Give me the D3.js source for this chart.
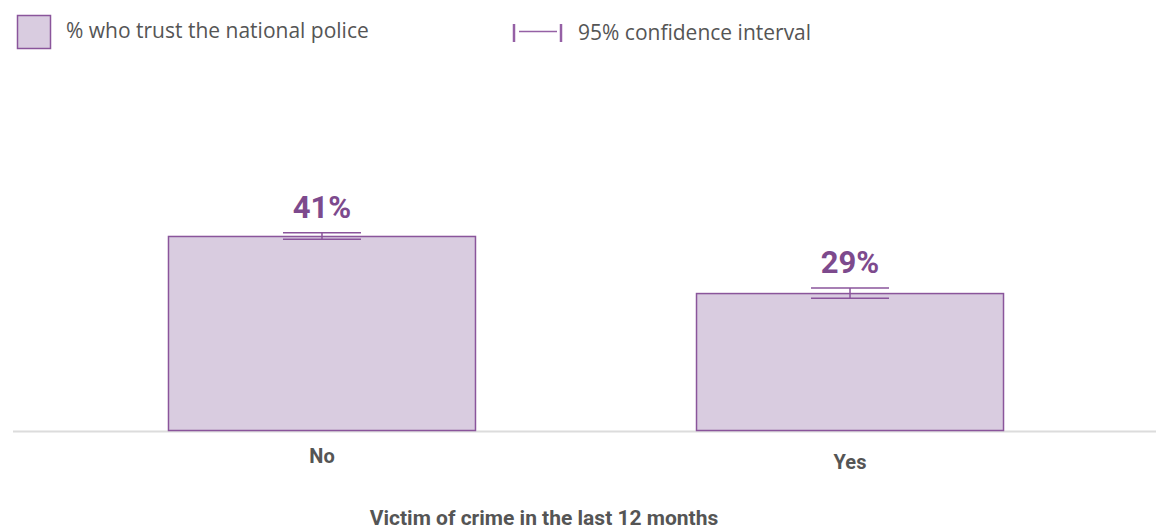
<!DOCTYPE html>
<html>
<head>
<meta charset="utf-8">
<script src="https://cdn.jsdelivr.net/npm/d3@7"></script>
<style>
  body { margin: 0; background: #fff; }
  svg { display: block; }
</style>
</head>
<body>
<script>
// Chart data
var categories = ["No", "Yes"];
var values = [41, 29];
var ciLow = [40.3, 27.9];
var ciHigh = [41.7, 30.05];
var legendLabels = ["% who trust the national police", "95% confidence interval"];
var axisTitle = "Victim of crime in the last 12 months";

var width = 1156, height = 531;
var purple = "#8a559b", fillPurple = "#d9cce0", labelPurple = "#7d4a8d", grey = "#555";

var svg = d3.select("body").append("svg")
  .attr("width", width)
  .attr("height", height);

// Scales
var xRange = d3.scaleBand()
  .domain(categories)
  .range([58, 1114])
  .paddingInner(0.4167)
  .paddingOuter(0.2083);
var yRange = d3.scaleLinear().domain([0, 60]).range([431, 145.6]);

// Baseline
svg.append("line")
  .attr("x1", 13).attr("x2", width)
  .attr("y1", yRange(0) + 0.5).attr("y2", yRange(0) + 0.5)
  .attr("stroke", "#dcdcdc").attr("stroke-width", 2);

// Bars
var data = categories.map(function (c, i) {
  return { cat: c, value: values[i], lo: ciLow[i], hi: ciHigh[i] };
});

svg.selectAll("rect.bar")
  .data(data)
  .enter().append("rect")
  .attr("class", "bar")
  .attr("x", function (d) { return xRange(d.cat) + 0.5; })
  .attr("y", function (d) { return yRange(d.value) + 0.5; })
  .attr("width", xRange.bandwidth() - 1)
  .attr("height", function (d) { return yRange(0) - yRange(d.value) - 1; })
  .attr("fill", fillPurple)
  .attr("stroke", purple)
  .attr("stroke-width", 1.5);

// Confidence intervals
var capW = 78;
var ci = svg.selectAll("g.ci")
  .data(data)
  .enter().append("g")
  .attr("class", "ci")
  .attr("stroke", purple)
  .attr("stroke-width", 1.5);

ci.append("line")
  .attr("x1", function (d) { return xRange(d.cat) + xRange.bandwidth() / 2; })
  .attr("x2", function (d) { return xRange(d.cat) + xRange.bandwidth() / 2; })
  .attr("y1", function (d) { return yRange(d.hi); })
  .attr("y2", function (d) { return yRange(d.lo); });
["hi", "lo"].forEach(function (k) {
  ci.append("line")
    .attr("x1", function (d) { return xRange(d.cat) + xRange.bandwidth() / 2 - capW / 2; })
    .attr("x2", function (d) { return xRange(d.cat) + xRange.bandwidth() / 2 + capW / 2; })
    .attr("y1", function (d) { return yRange(d[k]); })
    .attr("y2", function (d) { return yRange(d[k]); });
});

// Value labels
svg.selectAll("text.val")
  .data(data)
  .enter().append("text")
  .attr("class", "val")
  .attr("x", function (d) { return xRange(d.cat) + xRange.bandwidth() / 2; })
  .attr("y", function (d) { return yRange(d.hi) - 15; })
  .attr("text-anchor", "middle")
  .attr("font-family", "Roboto")
  .attr("font-weight", "bold")
  .attr("font-size", 31)
  .attr("fill", labelPurple)
  .text(function (d) { return d.value + "%"; });

// Category labels
svg.selectAll("text.cat")
  .data(categories)
  .enter().append("text")
  .attr("class", "cat")
  .attr("x", function (d) { return xRange(d) + xRange.bandwidth() / 2; })
  .attr("y", function (d, i) { return 463 + (i ? 6 : 0); })
  .attr("text-anchor", "middle")
  .attr("font-family", "Roboto")
  .attr("font-weight", "bold")
  .attr("font-size", 20)
  .attr("fill", grey)
  .text(function (d) { return d; });

// Axis title
svg.append("text")
  .attr("x", 544)
  .attr("y", 525)
  .attr("text-anchor", "middle")
  .attr("font-family", "Roboto")
  .attr("font-weight", "bold")
  .attr("font-size", 21)
  .attr("fill", grey)
  .text(axisTitle);

// Legend
var legend = svg.append("g").attr("font-family", "Open Sans").attr("font-size", 21).attr("fill", grey);
legend.append("rect")
  .attr("x", 17.5).attr("y", 15.5).attr("width", 33).attr("height", 33)
  .attr("fill", fillPurple).attr("stroke", purple).attr("stroke-width", 1.5);
legend.append("text").attr("x", 66).attr("y", 38).text(legendLabels[0]);

var ciLeg = legend.append("g").attr("stroke", "#9560a5");
ciLeg.append("line").attr("x1", 514).attr("x2", 514).attr("y1", 24).attr("y2", 42).attr("stroke-width", 2.5);
ciLeg.append("line").attr("x1", 561).attr("x2", 561).attr("y1", 24).attr("y2", 42).attr("stroke-width", 2.5);
ciLeg.append("line").attr("x1", 519).attr("x2", 557).attr("y1", 31.5).attr("y2", 31.5).attr("stroke-width", 1.5);
legend.append("text").attr("x", 578).attr("y", 40).text(legendLabels[1]);
</script>
</body>
</html>
